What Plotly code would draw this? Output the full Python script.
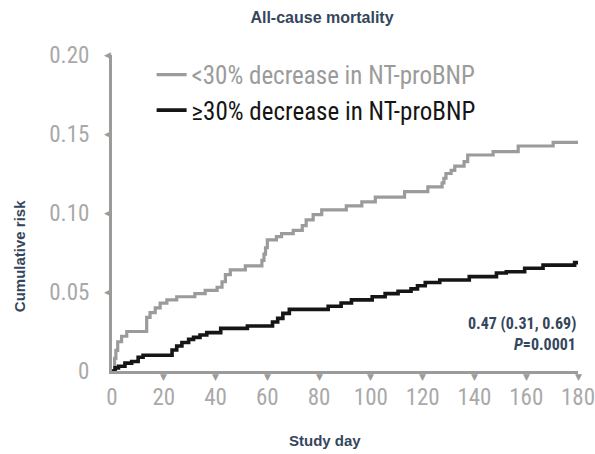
import plotly.graph_objects as go

# ---- data ----
days_lt30 = [0, 1, 1.5, 2.2, 3.7, 5.7, 13.4, 14.7, 16.7, 18.6, 21.2, 25, 32, 36, 40.6, 42.5, 43.8,
             45.7, 51.5, 57.9, 58.7, 59.3, 60, 63.5, 65.5, 70, 73.5, 75, 77.7, 81, 90.5, 96.5,
             101.7, 113, 122, 127.5, 128.2, 129, 131, 132.4, 136, 137.4, 147.2, 156.9, 170.4, 180]
risk_lt30 = [0, 0.008, 0.013, 0.0185, 0.022, 0.025, 0.034, 0.037, 0.040, 0.043, 0.045, 0.047, 0.049,
             0.051, 0.053, 0.0565, 0.061, 0.064, 0.0665, 0.070, 0.074, 0.078, 0.083, 0.085, 0.087,
             0.089, 0.092, 0.0956, 0.099, 0.102, 0.1045, 0.107, 0.110, 0.1135, 0.1165, 0.119, 0.122,
             0.125, 0.127, 0.1297, 0.1325, 0.1367, 0.1388, 0.1424, 0.1447, 0.1447]

days_ge30 = [0, 1.2, 2.5, 5, 7.6, 10.1, 12, 23.2, 25, 27, 29.6, 31.5, 34, 36.6, 42, 52.3, 62, 64,
             66, 68.5, 83.5, 88.5, 92.5, 100.5, 105.5, 110.5, 115.5, 118, 121, 126.6, 138, 148.5,
             152.3, 159.4, 166.5, 178.7, 180]
risk_ge30 = [0, 0.002, 0.003, 0.005, 0.006, 0.0087, 0.010, 0.0133, 0.0158, 0.018, 0.020, 0.0213,
             0.0228, 0.0243, 0.027, 0.0285, 0.031, 0.0333, 0.0365, 0.039, 0.041, 0.043, 0.045, 0.047,
             0.049, 0.0505, 0.052, 0.054, 0.056, 0.0576, 0.0597, 0.062, 0.0628, 0.065, 0.067, 0.0686,
             0.0686]

x_ticks = [0, 20, 40, 60, 80, 100, 120, 140, 160, 180]
y_ticks = [0, 0.05, 0.10, 0.15, 0.20]
y_ticklabels = ["0", "0.05", "0.10", "0.15", "0.20"]

series_names = ["&lt;30% decrease in NT-proBNP", "≥30% decrease in NT-proBNP"]
hr_text = "0.47 (0.31, 0.69)"
p_text = "<i>P</i>=0.0001"

GRAY = "#9b9b9b"
BLACK = "#151515"
TICKGRAY = "#a9a9a9"
NAVY = "#34465c"
NARROW = "Liberation Sans Narrow, Roboto Condensed, Roboto, sans-serif"
SANS = "Liberation Sans, Arial, sans-serif"

fig = go.Figure()
fig.add_trace(go.Scatter(
    x=days_lt30, y=risk_lt30, mode="lines", line=dict(shape="hv", color=GRAY, width=3.2),
    name=f'<span style="color:{GRAY}">{series_names[0]}</span>'))
fig.add_trace(go.Scatter(
    x=days_ge30, y=risk_ge30, mode="lines", line=dict(shape="hv", color=BLACK, width=3.6),
    name=f'<span style="color:{BLACK}">{series_names[1]}</span>'))

annotations = []
# triangle tick marks
for v in y_ticks[1:]:
    annotations.append(dict(x=0, xref="paper", y=v, yref="y", text="◀", showarrow=False,
                            xanchor="right", yanchor="middle", xshift=1,
                            font=dict(size=9, color=GRAY, family="DejaVu Sans")))
for v in x_ticks[1:]:
    annotations.append(dict(x=v, xref="x", y=0, yref="paper", text="▼", showarrow=False,
                            xanchor="center", yanchor="top", yshift=1,
                            font=dict(size=9, color=GRAY, family="DejaVu Sans")))

annotations += [
    dict(x=180, xref="x", y=0.030, yref="y", text=hr_text, showarrow=False, xanchor="right",
         yanchor="middle", font=dict(size=16, color=NAVY, family=NARROW, weight="bold")),
    dict(x=180, xref="x", y=0.0165, yref="y", text=p_text, showarrow=False, xanchor="right",
         yanchor="middle", font=dict(size=16, color=NAVY, family=NARROW, weight="bold")),
    dict(x=-0.197, xref="paper", y=0.364, yref="paper", text="Cumulative risk", showarrow=False,
         textangle=-90, xanchor="center", yanchor="middle",
         font=dict(size=15, color=NAVY, family=SANS, weight="bold")),
    dict(x=0.457, xref="paper", y=-0.2215, yref="paper", text="Study day", showarrow=False,
         xanchor="center", yanchor="middle",
         font=dict(size=15, color=NAVY, family=SANS, weight="bold")),
]

fig.update_layout(
    width=595, height=454,
    margin=dict(l=112, r=17, t=55, b=83, autoexpand=False),
    paper_bgcolor="white", plot_bgcolor="white",
    title=dict(text="All-cause mortality", x=322 / 595, xref="container", xanchor="center",
               y=1 - 17 / 454, yref="container", yanchor="middle",
               font=dict(size=16, color=NAVY, family=SANS, weight="bold")),
    showlegend=True,
    legend=dict(x=0.085, y=1.01, xanchor="left", yanchor="top", bgcolor="rgba(0,0,0,0)",
                font=dict(size=25, family=NARROW), itemwidth=30, tracegroupgap=0),
    xaxis=dict(range=[0, 180], tickvals=x_ticks, ticktext=[str(t) for t in x_ticks],
               showline=True, linecolor=GRAY, linewidth=3, showgrid=False, zeroline=False,
               ticks="", ticklabelstandoff=3, ticklabeloverflow="allow", automargin=False,
               tickfont=dict(size=23, color=TICKGRAY, family=NARROW)),
    yaxis=dict(range=[0, 0.20], tickvals=y_ticks, ticktext=y_ticklabels,
               showline=True, linecolor=GRAY, linewidth=3, showgrid=False, zeroline=False,
               ticks="", ticklabelstandoff=15, automargin=False,
               tickfont=dict(size=23, color=TICKGRAY, family=NARROW)),
    annotations=annotations,
)

fig.write_html("out.html")
